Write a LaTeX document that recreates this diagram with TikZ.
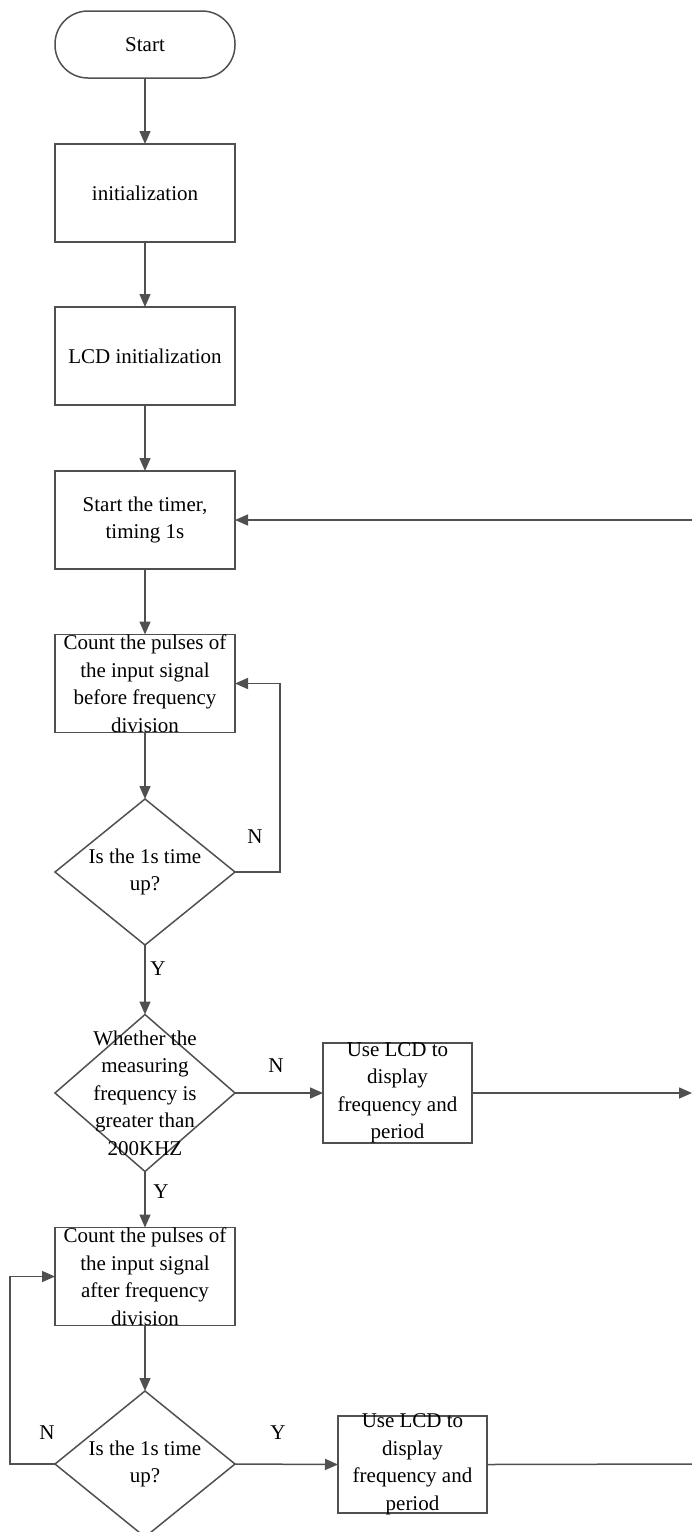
\documentclass[tikz,border=0pt]{standalone}
\usepackage{fontspec}
\setmainfont{Liberation Serif}
\usetikzlibrary{shapes.geometric, arrows.meta}
\definecolor{flowgray}{RGB}{80,80,80}
\newcommand{\flowfont}{\fontsize{21}{27.5}\selectfont}
\tikzset{txt/.style={font=\flowfont, align=center, inner sep=0pt}}
\tikzset{term/.style={draw=flowgray, line width=1.5pt, rectangle, rounded corners=33pt,
    minimum width=180pt, minimum height=67pt, inner sep=0pt, outer sep=0pt, font=\flowfont}}
\tikzset{proc/.style={draw=flowgray, line width=1.5pt, rectangle, minimum width=180pt,
    minimum height=98pt, inner sep=0pt, outer sep=0pt, label={[txt]center:#1}}}
\tikzset{dec/.style={draw=flowgray, line width=1.5pt, diamond, minimum width=180pt,
    minimum height=146pt, inner sep=0pt, outer sep=0pt, label={[txt]center:#1}}}
\tikzset{flow/.style={draw=flowgray, line width=1.5pt, -{Triangle[length=13pt, width=11pt]}}}
\tikzset{lbl/.style={font=\flowfont, inner sep=0pt}}

\begin{document}
\begin{tikzpicture}[x=1pt, y=-1pt]
        \clip (0,0) rectangle (692,1532);

        \node[term] (start) at (145, 44.5) {Start};
        \node[proc={initialization}] (init) at (145, 193) {};
        \node[proc={LCD initialization}] (lcd) at (145, 356) {};
        \node[proc={Start the timer,\\timing 1s}] (timer) at (145, 520) {};
        \node[proc={Count the pulses of\\the input signal\\before frequency\\division}] (cnt1) at (145, 683.5) {};
        \node[dec={Is the 1s time\\up?}] (tq1) at (145, 872) {};
        \node[dec={Whether the\\measuring\\frequency is\\greater than\\200KHZ}, minimum height=157pt] (fq) at (145, 1093) {};
        \node[proc={Use LCD to\\display\\frequency and\\period}, minimum width=149pt, minimum height=100pt] (disp1) at (397.5, 1093) {};
        \node[proc={Count the pulses of\\the input signal\\after frequency\\division}] (cnt2) at (145, 1276.5) {};
        \node[dec={Is the 1s time\\up?}] (tq2) at (145, 1464) {};
        \node[proc={Use LCD to\\display\\frequency and\\period}, minimum width=149pt, minimum height=97pt] (disp2) at (412.5, 1464.5) {};

        \coordinate (r1) at (692, 520);
        \coordinate (r2) at (692, 1093);
        \coordinate (r3) at (692, 1464);

        \draw [flow] (start) -- (init);
        \draw [flow] (init) -- (lcd);
        \draw [flow] (lcd) -- (timer);
        \draw [flow] (timer) -- (cnt1);
        \draw [flow] (cnt1) -- (tq1);
        \draw [flow] (tq1) -- (fq);
        \draw [flow] (fq) -- (cnt2);
        \draw [flow] (cnt2) -- (tq2);
        \draw [flow] (tq1.east) -- ++(45, 0) |- (cnt1.east);
        \draw [flow] (tq2.west) -- ++(-45, 0) |- (cnt2.west);
        \draw [flow] (fq.east) -- (disp1.west);
        \draw [flow] (tq2.east) -- (disp2.west);
        \draw [flow] (disp1.east) -- (r2);
        \draw [flow] (r1) -- (timer.east);
        \draw [flowgray, line width=1.5pt] (disp2.east) -- (r3);

        \node[lbl] (n1) at (255, 837) {N};
        \node[lbl] (y1) at (158, 969) {Y};
        \node[lbl] (n2) at (276, 1066) {N};
        \node[lbl] (y2) at (161, 1192) {Y};
        \node[lbl] (n3) at (47, 1433) {N};
        \node[lbl] (y3) at (278, 1433) {Y};
    \end{tikzpicture}
\end{document}
